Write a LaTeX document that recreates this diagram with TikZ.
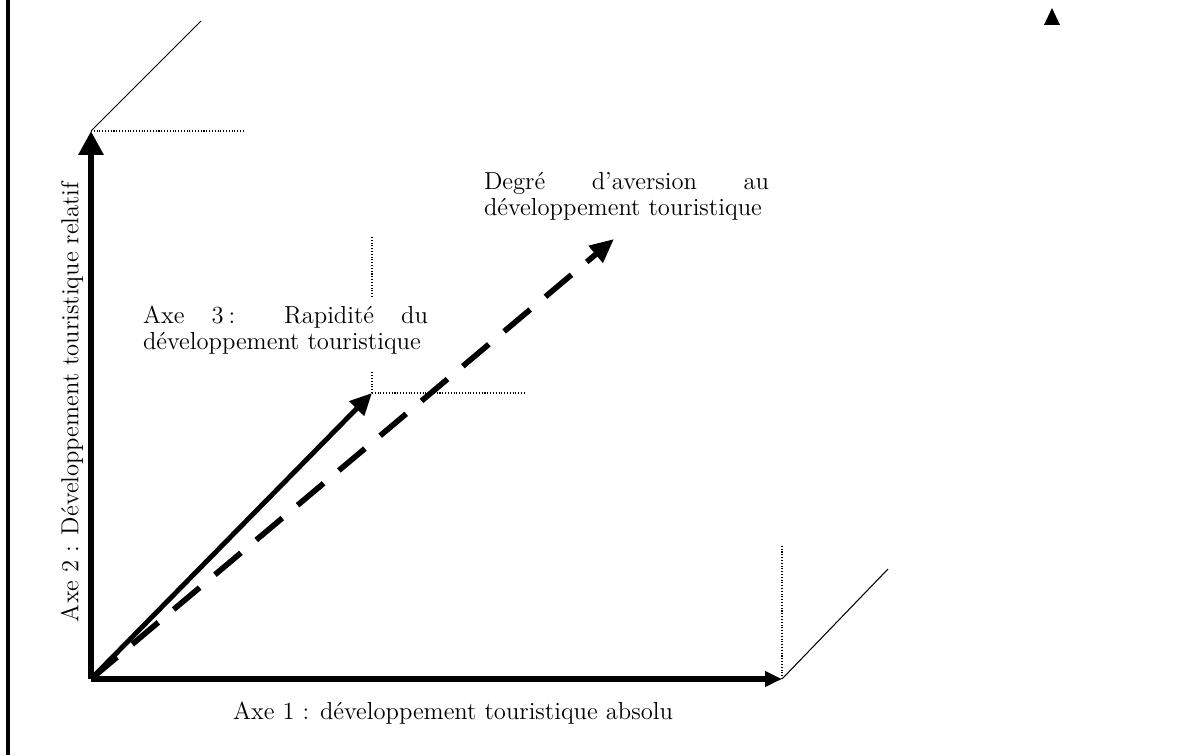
\documentclass[tikz,border=0pt]{standalone}
\usetikzlibrary{arrows.meta}
\begin{document}
\begin{tikzpicture}[x=0.02cm,y=0.02cm,
	every node/.style={font=\fontsize{14}{15}\selectfont},
	guide/.style={line width=0.6pt,densely dotted},
	slant/.style={line width=0.6pt},
	axis/.style={line width=3.4pt},
	vec/.style={line width=2.8pt}]
	\useasboundingbox (0,0) rectangle (1191,755);
	% frame line on the left
	\draw[line width=0.08cm] (8,0) -- (8,755);
	% points
	\coordinate (O) at (91,76);
	\coordinate (ytip) at (91,624);
	\coordinate (xtip) at (782,76);
	\coordinate (ztip) at (372,362);
	\coordinate (dtip) at (614,516);
	% the X-axis
	\draw[axis,-{Triangle[length=0.34cm,width=0.3cm]}] (O) -- (xtip);
	\draw[guide] (xtip) -- (782,210);
	\draw[slant] (xtip) -- (888,186);
	% the Y-axis
	\draw[axis,-{Triangle[length=0.48cm,width=0.48cm]}] (O) -- (ytip);
	\draw[guide] (ytip) -- (244,624);
	\draw[slant] (ytip) -- (201,734);
	% axe 3
	\draw[vec,-{Triangle[length=0.44cm,width=0.4cm]}] (O) -- (ztip);
	\draw[guide] (ztip) -- (525,362);
	\draw[guide] (ztip) -- (372,383);
	\draw[guide] (372,458) -- (372,518);
	% aversion
	\draw[vec,line width=3.2pt,dash pattern=on 0.68cm off 0.4cm,-{Triangle[length=0.48cm,width=0.42cm]}] (O) -- (dtip);
	% little triangle top right
	\fill (1044,730) -- (1060,730) -- (1052,747) -- cycle;
	% labels
	\node (lx) at (453,42) {Axe 1 : développement touristique absolu};
	\node[rotate=90] (ly) at (72,353) {Axe 2 : Développement touristique relatif};
	\node[text width=5.7cm,align=justify,inner sep=0pt] (lz) at (285.5,425) {Axe 3\hspace{0.2em}: Rapidité du développement touristique};
	\node[text width=5.7cm,align=justify,inner sep=0pt] (ld) at (626.5,559) {Degré d'aversion au développement touristique};
\end{tikzpicture}
\end{document}
